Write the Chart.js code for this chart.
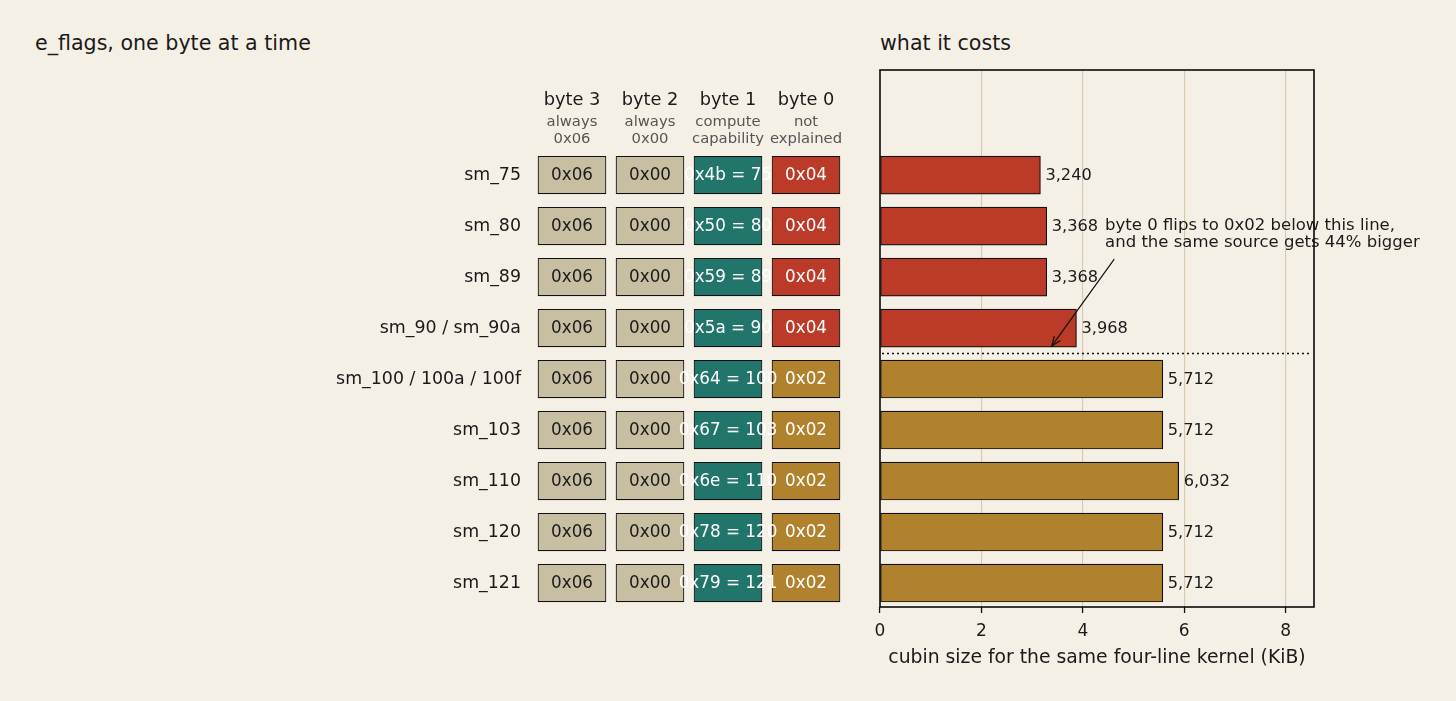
<!DOCTYPE html>
<html><head><meta charset="utf-8">
<script src="https://cdn.jsdelivr.net/npm/chart.js@4.4.1/dist/chart.umd.min.js"></script>
<style>
html,body{margin:0;padding:0;background:#f5f0e6;}
#wrap{position:relative;width:1456px;height:701px;background:#f5f0e6;overflow:hidden;}
#left{position:absolute;left:0;top:0;width:860px;height:701px;}
#right{position:absolute;left:860px;top:0;width:596px;height:701px;}
.ttl{position:absolute;font-family:"DejaVu Sans";font-size:20.6px;color:#1a1a1a;line-height:1;white-space:nowrap;}
</style></head>
<body>
<div id="wrap">
  <div class="ttl" style="left:35px;top:33px;">e_flags, one byte at a time</div>
  <div class="ttl" style="left:880px;top:33px;">what it costs</div>
  <div id="left"><canvas id="cl"></canvas></div>
  <div id="right"><canvas id="cr"></canvas></div>
</div>
<script>
// ---- data ----
const rows = ['sm_75','sm_80','sm_89','sm_90 / sm_90a','sm_100 / 100a / 100f','sm_103','sm_110','sm_120','sm_121'];
const byte3 = ['0x06','0x06','0x06','0x06','0x06','0x06','0x06','0x06','0x06'];
const byte2 = ['0x00','0x00','0x00','0x00','0x00','0x00','0x00','0x00','0x00'];
const byte1 = ['0x4b = 75','0x50 = 80','0x59 = 89','0x5a = 90','0x64 = 100','0x67 = 103','0x6e = 110','0x78 = 120','0x79 = 121'];
const byte0 = ['0x04','0x04','0x04','0x04','0x02','0x02','0x02','0x02','0x02'];
const sizeBytes = [3240, 3368, 3368, 3968, 5712, 5712, 6032, 5712, 5712];
const byteHeaders = ['byte 3','byte 2','byte 1','byte 0'];
const byteNotes = [['always','0x06'],['always','0x00'],['compute','capability'],['not','explained']];
const xTicks = [0, 2, 4, 6, 8];
const annotationLines = ['byte 0 flips to 0x02 below this line,', 'and the same source gets 44% bigger'];
const xTitle = 'cubin size for the same four-line kernel (KiB)';

// ---- styles ----
const FONT = '"DejaVu Sans"';
Chart.defaults.font.family = FONT;
Chart.defaults.color = '#1a1a1a';
const C_CREAM = '#c8bea2', C_TEAL = '#21756a', C_RED = '#bc3a28', C_GOLD = '#b0822e';
const C_GRID = '#d8c8ae';
const C_EDGE = '#111111';

const cols = [byte3, byte2, byte1, byte0];
const colColor = [
  () => C_CREAM,
  () => C_CREAM,
  () => C_TEAL,
  (v) => v === '0x04' ? C_RED : C_GOLD
];
const colText = ['#1a1a1a', '#1a1a1a', '#ffffff', '#ffffff'];

// ---- left: byte grid ----
const leftDatasets = cols.map((arr, c) => ({
  label: byteHeaders[c],
  data: arr.map(() => [c + 0.06, c + 0.94]),
  backgroundColor: arr.map(v => colColor[c](v)),
  borderColor: C_EDGE,
  borderWidth: 1.2,
  borderSkipped: false,
  grouped: false,
  barPercentage: 0.75,
  categoryPercentage: 1.0
}));

const gridTextPlugin = {
  id: 'gridText',
  afterDatasetsDraw(chart) {
    const ctx = chart.ctx;
    ctx.save();
    ctx.textAlign = 'center';
    ctx.textBaseline = 'middle';
    chart.data.datasets.forEach((ds, c) => {
      const meta = chart.getDatasetMeta(c);
      ctx.fillStyle = colText[c];
      ctx.font = '16.8px ' + FONT;
      meta.data.forEach((el, i) => {
        const cx = (el.x + el.base) / 2;
        ctx.fillText(cols[c][i], cx, el.y + 1);
      });
    });
    // headers
    const xs = chart.scales.x;
    for (let c = 0; c < 4; c++) {
      const cx = xs.getPixelForValue(c + 0.5);
      ctx.fillStyle = '#1a1a1a';
      ctx.font = '17.8px ' + FONT;
      ctx.fillText(byteHeaders[c], cx, 100);
      ctx.fillStyle = '#555555';
      ctx.font = '14.8px ' + FONT;
      ctx.fillText(byteNotes[c][0], cx, 122);
      ctx.fillText(byteNotes[c][1], cx, 139);
    }
    ctx.restore();
  }
};

new Chart(document.getElementById('cl'), {
  type: 'bar',
  data: { labels: rows, datasets: leftDatasets },
  options: {
    indexAxis: 'y',
    responsive: true,
    maintainAspectRatio: false,
    animation: false,
    layout: { padding: { left: 0, right: 15, top: 149.5, bottom: 92.5 } },
    plugins: { legend: { display: false }, tooltip: { enabled: false } },
    scales: {
      x: { type: 'linear', min: 0, max: 4, display: false },
      y: {
        type: 'category',
        grid: { display: false, drawTicks: false },
        border: { display: false },
        ticks: { font: { size: 17.4 }, color: '#1a1a1a', padding: 12 },
        afterFit(s) { s.width = 533; }
      }
    }
  },
  plugins: [gridTextPlugin]
});

// ---- right: cubin size bars ----
const barPoints = sizeBytes.map((b, i) => ({ x: b / 1024, y: i }));
const barColors = byte0.map(v => v === '0x04' ? C_RED : C_GOLD);

const rightPlugin = {
  id: 'rightDecor',
  afterDatasetsDraw(chart) {
    const ctx = chart.ctx;
    const a = chart.chartArea;
    const xs = chart.scales.x, ys = chart.scales.y;
    ctx.save();
    // value labels
    ctx.font = '16.2px ' + FONT;
    ctx.fillStyle = '#1a1a1a';
    ctx.textAlign = 'left';
    ctx.textBaseline = 'middle';
    const meta = chart.getDatasetMeta(0);
    meta.data.forEach((el, i) => {
      ctx.fillText(sizeBytes[i].toLocaleString('en-US'), el.x + 5, el.y + 1);
    });
    // dotted separator
    const yd = ys.getPixelForValue(3.5);
    ctx.strokeStyle = '#111111';
    ctx.lineWidth = 1.5;
    ctx.setLineDash([2, 3]);
    ctx.beginPath();
    ctx.moveTo(a.left + 2, yd);
    ctx.lineTo(a.right - 3, yd);
    ctx.stroke();
    ctx.setLineDash([]);
    // annotation text
    ctx.font = '16.5px ' + FONT;
    const tx = xs.getPixelForValue(4.44);
    const ty = ys.getPixelForValue(1.0);
    ctx.fillText(annotationLines[0], tx, ty);
    ctx.fillText(annotationLines[1], tx, ty + 17);
    // arrow
    const x0 = xs.getPixelForValue(4.62), y0 = ys.getPixelForValue(1.65);
    const x1 = xs.getPixelForValue(3.39), y1 = ys.getPixelForValue(3.35);
    ctx.lineWidth = 1.2;
    ctx.beginPath();
    ctx.moveTo(x0, y0); ctx.lineTo(x1, y1); ctx.stroke();
    const ang = Math.atan2(y1 - y0, x1 - x0);
    const L = 10, w = 0.38;
    ctx.beginPath();
    ctx.moveTo(x1 - L * Math.cos(ang - w), y1 - L * Math.sin(ang - w));
    ctx.lineTo(x1, y1);
    ctx.lineTo(x1 - L * Math.cos(ang + w), y1 - L * Math.sin(ang + w));
    ctx.stroke();
    // frame
    ctx.lineWidth = 1.6;
    ctx.strokeStyle = '#0a0a0a';
    const l = Math.round(a.left), t = Math.round(a.top), r = Math.round(a.right), b = Math.round(a.bottom);
    ctx.strokeRect(l, t, r - l, b - t);
    ctx.restore();
  }
};

new Chart(document.getElementById('cr'), {
  type: 'bar',
  data: {
    datasets: [{
      label: 'cubin size (KiB)',
      data: barPoints,
      backgroundColor: barColors,
      borderColor: C_EDGE,
      borderWidth: 1.2,
      borderSkipped: false,
      barThickness: 38
    }]
  },
  options: {
    indexAxis: 'y',
    responsive: true,
    maintainAspectRatio: false,
    animation: false,
    layout: { padding: { left: 20, right: 142, top: 70, bottom: 0 } },
    plugins: { legend: { display: false }, tooltip: { enabled: false } },
    scales: {
      y: { type: 'linear', min: -2.06, max: 8.47, reverse: true, offset: false, display: false,
           afterBuildTicks(s) { s.ticks = []; } },
      x: {
        type: 'linear', min: 0, max: 8.56,
        afterBuildTicks(s) { s.ticks = xTicks.map(v => ({ value: v })); },
        grid: {
          color: (c) => (c.tick && c.tick.value === 0) ? 'rgba(0,0,0,0)' : C_GRID,
          tickColor: '#111111',
          tickLength: 6,
          lineWidth: 1.1,
          tickWidth: 1.3
        },
        border: { display: false },
        ticks: { font: { size: 17 }, color: '#1a1a1a', padding: 8, maxRotation: 0 },
        title: { display: true, text: xTitle, font: { size: 18.8 }, color: '#1a1a1a', padding: { top: 4, bottom: 32 } },
        afterFit(s) { s.height = 94; }
      }
    }
  },
  plugins: [rightPlugin]
});
</script>
</body></html>
